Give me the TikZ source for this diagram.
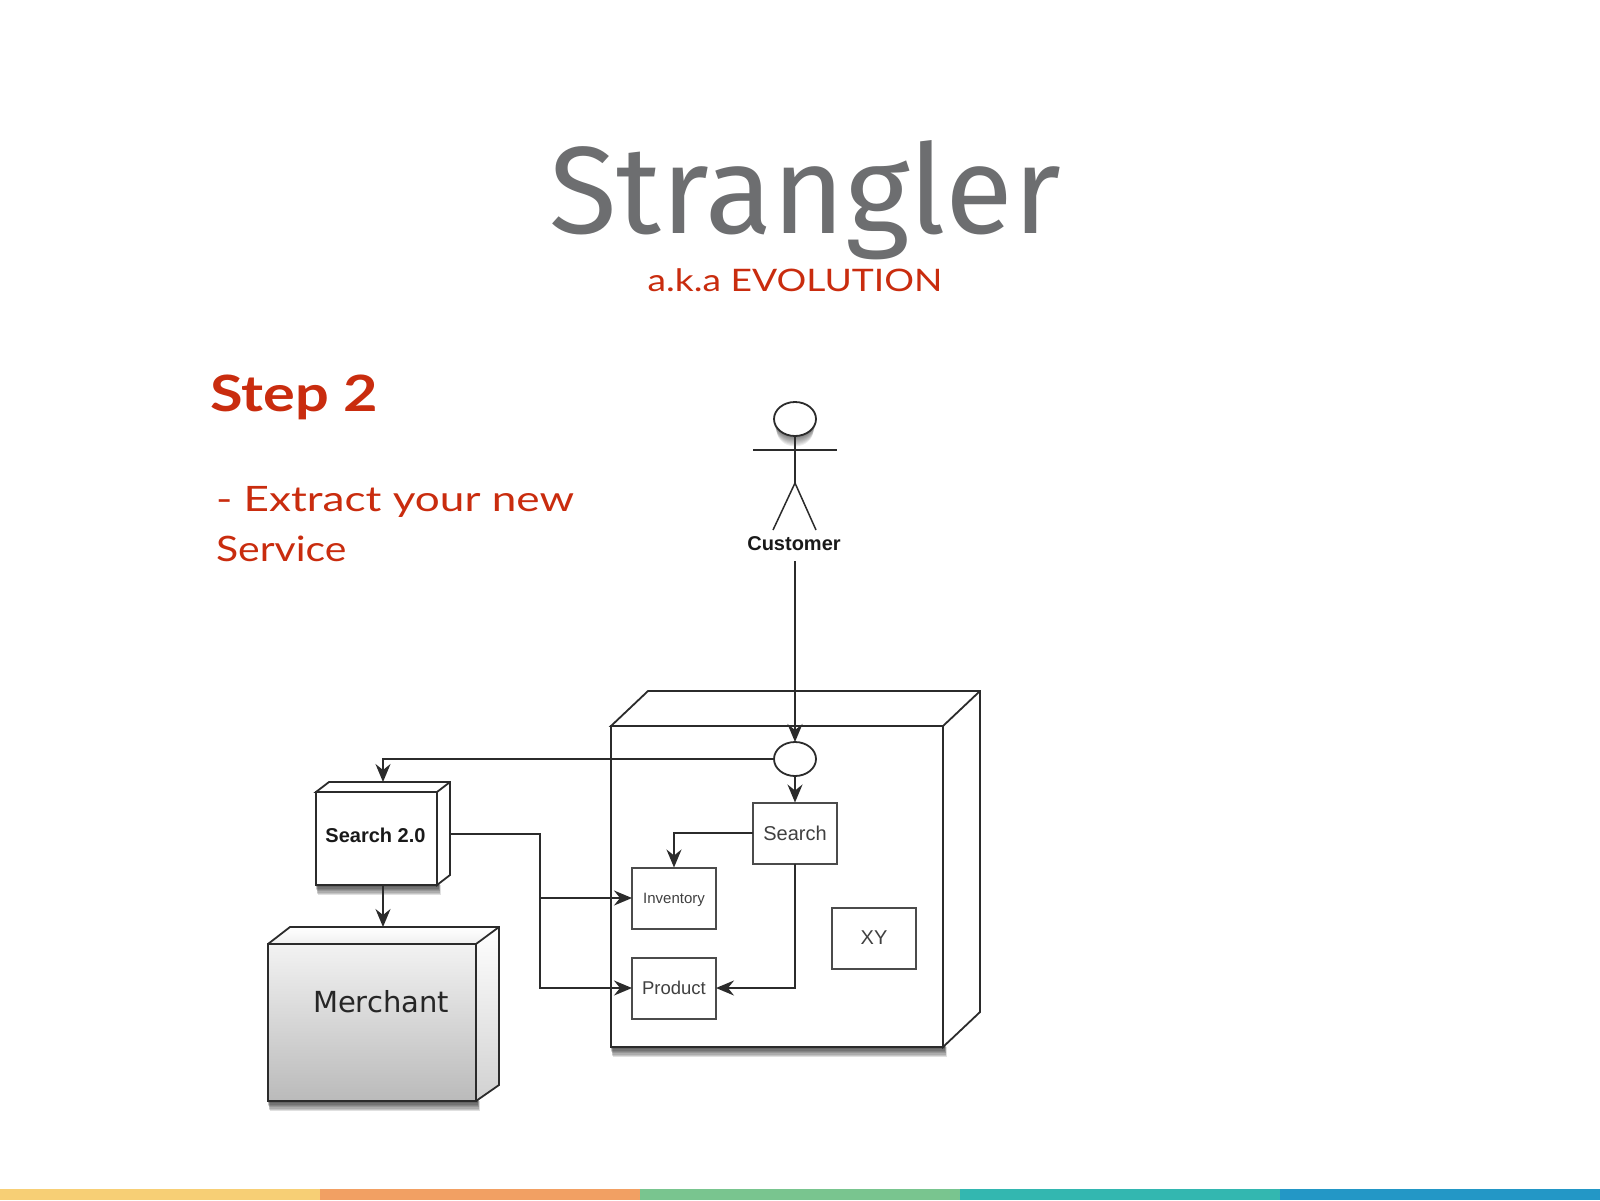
\documentclass[tikz,border=0pt]{standalone}
\usepackage{fontspec}
\usetikzlibrary{arrows.meta,calc,shapes.geometric}
\setmainfont{Liberation Sans}
\newfontfamily\titlefont{Fira Sans}
\newfontfamily\handfont{Lato}
\newfontfamily\merchfont{DejaVu Sans}
\definecolor{ink}{HTML}{2B2B2B}
\definecolor{titlegray}{HTML}{6D6E70}
\definecolor{handred}{HTML}{C92C0E}
\definecolor{barA}{HTML}{F7CF75}
\definecolor{barB}{HTML}{F2A063}
\definecolor{barC}{HTML}{79C58F}
\definecolor{barD}{HTML}{33B7B0}
\definecolor{barE}{HTML}{2397C6}
\tikzset{
  x=1pt,y=-1pt,
  edge/.style={draw=ink,line width=1.8pt,line join=miter},
  arrowline/.style={draw=ink,line width=1.8pt,-{Stealth[length=18pt,width=15pt,inset=6pt]}},
  plainline/.style={draw=ink,line width=1.8pt},
  front/.style={draw=ink,line width=2.2pt,fill=white,inner sep=0pt,outer sep=0pt,rectangle},
  inner box/.style={draw=ink!85,line width=2pt,fill=white,inner sep=0pt,outer sep=0pt,rectangle,minimum width=84pt,minimum height=61pt,text=black!75},
  port/.style={draw=ink,line width=1.8pt,fill=white,ellipse,inner sep=0pt,outer sep=0pt,minimum width=42pt,minimum height=34pt},
  figure/.style={draw=ink,line width=1.5pt},
  plain text/.style={inner sep=0pt,outer sep=0pt},
  hand/.style={plain text,text=handred,anchor=base west},
}
\newcommand{\softshadow}[4]{%
  \foreach \k in {0,1,...,7}{%
    \fill[black,opacity=0.12] ($(#1,#2)+(\k*0.3-0.5,\k*1.3)$) rectangle ($(#3,#4)+(\k*0.3+1.5,\k*1.3+1)$);
  }%
}
\begin{document}
\begin{tikzpicture}
\useasboundingbox (0,0) rectangle (1600,1200);
\fill[white] (0,0) rectangle (1600,1200);
% bar
\fill[barA] (0,1188.5) rectangle (320,1200);
\fill[barB] (320,1188.5) rectangle (640,1200);
\fill[barC] (640,1188.5) rectangle (960,1200);
\fill[barD] (960,1188.5) rectangle (1280,1200);
\fill[barE] (1280,1188.5) rectangle (1600,1200);
% titles
\node[plain text,text=titlegray,anchor=base] (title) at (805,233) {\titlefont\fontsize{124}{124}\selectfont Strangler};
\node[plain text,text=handred,anchor=base] (aka) at (795,291) {\handfont\addfontfeature{FakeStretch=1.2}\fontsize{31}{31}\selectfont a.k.a EVOLUTION};
\node[hand] (stepttl) at (210,411) {\handfont\bfseries\addfontfeature{FakeStretch=1.19}\fontsize{50}{50}\selectfont Step 2};
\node[hand] (line1) at (216,511) {\handfont\addfontfeature{FakeStretch=1.26}\fontsize{35}{35}\selectfont - Extract your new};
\node[hand] (line2) at (216,561) {\handfont\addfontfeature{FakeStretch=1.17}\fontsize{35}{35}\selectfont Service};
% shadows
\softshadow{611}{1038}{943}{1047}
\softshadow{316}{876}{437}{885}
\softshadow{268}{1092}{476}{1101}
% actor
\foreach \k in {0,...,7}{\fill[black,opacity=0.07] (795,{421+\k*1.4}) ellipse ({21-\k*0.4} and {17-\k*0.2});}
\node[port] (head) at (795,419) {};
\draw[figure] (head.south) -- (795,483) coordinate (hip);
\draw[figure] (753,450) -- (837,450);
\draw[figure] (hip) -- (773,530);
\draw[figure] (hip) -- (816,530);
\node[plain text,font=\bfseries\fontsize{20}{20}\selectfont,text=black!90] (customer) at (794,544) {Customer};
\coordinate (custfoot) at (795,561);
% container
\node[front,minimum width=332pt,minimum height=321pt] (app) at (777,886.5) {};
\draw[edge,fill=white] (app.north west) -- (648,691) -- (980,691) -- (980,1012) -- (app.south east) -- (app.north east) -- cycle;
\draw[edge] (app.north east) -- (980,691);
% port & inner boxes
\node[port] (gate) at (795,759) {};
\node[inner box,font=\fontsize{20}{20}\selectfont] (search) at (795,833) {Search};
\node[inner box,font=\fontsize{15}{15}\selectfont,text depth=0pt] (inventory) at (674,898) {Inventory};
\node[inner box,font=\fontsize{18.5}{18.5}\selectfont,text depth=0pt] (product) at (674,988) {Product};
\node[inner box,font=\fontsize{20}{20}\selectfont] (xy) at (874,938) {XY};
% search 2.0
\draw[edge,fill=white] (316,792) -- (329,782) -- (450,782) -- (450,875) -- (437,885) -- (437,792) -- cycle;
\node[front,minimum width=121pt,minimum height=93pt] (searchnew) at (376.5,838.5) {};
\draw[edge] (searchnew.north east) -- (450,782);
\node[plain text,font=\bfseries\fontsize{20}{20}\selectfont,text=black!90] (searchlabel) at (375.5,835) {Search 2.0};
\coordinate (newtop) at (383,782);
\coordinate (newbottom) at (383,885);
\coordinate (newside) at (450,834);
\coordinate (fork) at (540,898);
% merchant
\shade[top color=white,bottom color=black!6] (268,944) -- (290,927) -- (499,927) -- (476,944) -- cycle;
\shade[top color=white,bottom color=black!18] (476,944) -- (499,927) -- (499,1085) -- (476,1101) -- cycle;
\draw[edge] (268,944) -- (290,927) -- (499,927) -- (499,1085) -- (476,1101);
\node[front,fill=none,minimum width=208pt,minimum height=157pt,top color=black!5,bottom color=black!27] (merchant) at (372,1022.5) {};
\draw[edge] (merchant.north east) -- (499,927);
\node[plain text,font=\merchfont\fontsize{29}{29}\selectfont,text=black!85] (merchantlabel) at (381,1002) {Merchant};
\coordinate (merchtop) at (383,927);
% connectors
\draw[plainline] (custfoot) -- ($(gate.north)+(0,-15)$);
\draw[arrowline] ($(gate.north)+(0,-18)$) -- (gate.north);
\draw[arrowline] (gate.south) -- (search.north);
\draw[arrowline] (gate.west) -| (newtop);
\draw[arrowline] (search.west) -| (inventory.north);
\draw[arrowline] (search.south) |- (product.east);
\draw[arrowline] (newbottom) -- (merchtop);
\draw[plainline] (newside) -| (fork);
\draw[arrowline] (fork) -- (inventory.west);
\draw[arrowline] (fork) |- (product.west);
\end{tikzpicture}
\end{document}
